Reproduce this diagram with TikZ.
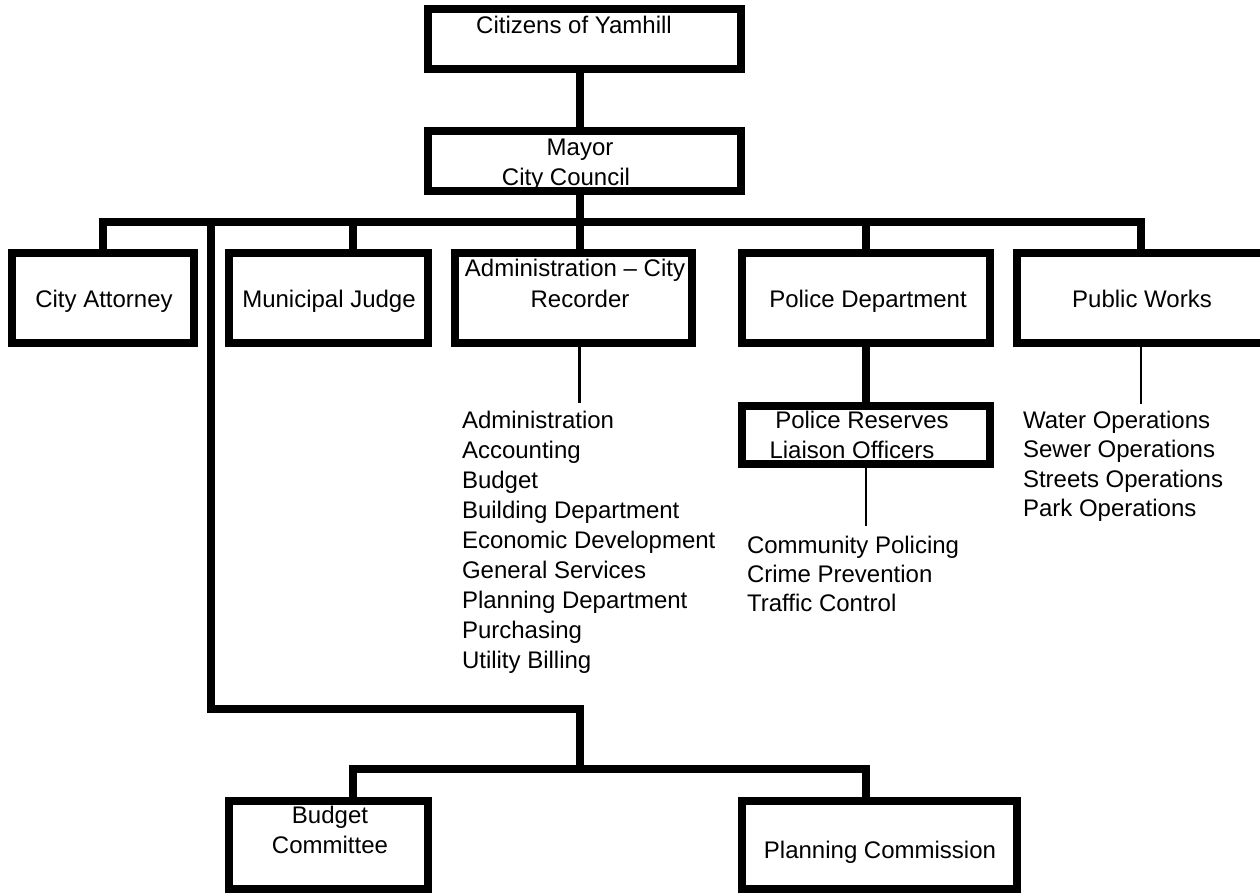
\documentclass[tikz,border=0pt]{standalone}
\usepackage{fontspec}
\setmainfont{Liberation Sans}
\begin{document}
\begin{tikzpicture}[x=1pt,y=-1pt,
  box/.style={draw=black,line width=8pt,line join=miter,rectangle,inner sep=0pt,outer sep=0pt},
  txt/.style={inner sep=0pt,outer sep=0pt,anchor=base,font=\fontsize{24}{29.5}\selectfont},
  ltxt/.style={txt,anchor=base west},
  conn/.style={line width=8pt,line join=miter},
  thinline/.style={line width=2.8pt}]
\clip (0,0) rectangle (1260,894);
\fill[white] (0,0) rectangle (1260,894);
% boxes
\node[box,minimum width=313pt,minimum height=60pt] (cit) at (584.5,39) {};
\node[box,minimum width=313pt,minimum height=60pt] (mayor) at (584.5,161) {};
\node[box,minimum width=182pt,minimum height=90pt] (ca) at (103,298) {};
\node[box,minimum width=199pt,minimum height=90pt] (mj) at (328.5,298) {};
\node[box,minimum width=237pt,minimum height=90pt] (adm) at (573.5,298) {};
\node[box,minimum width=248pt,minimum height=90pt] (pd) at (866,298) {};
\node[box,minimum width=248pt,minimum height=90pt] (pw) at (1141,298) {};
\node[box,minimum width=248pt,minimum height=58pt] (pr) at (866,435) {};
\node[box,minimum width=199pt,minimum height=88pt] (bc) at (328.5,845) {};
\node[box,minimum width=275pt,minimum height=88pt] (pc) at (879.5,845) {};
% junctions
\coordinate (hub) at (579.5,222);
\coordinate (mjb) at (353,222);
\coordinate (trunk) at (211,222);
\coordinate (low) at (211,709);
\coordinate (bot) at (579.5,769);
\coordinate (bcb) at (353,769);
\coordinate (pcb) at (866,769);
\coordinate (admend) at (579.5,403);
\coordinate (prend) at (866,526);
\coordinate (pwend) at (1141,404);
% connectors
\draw[conn] (cit.south -| hub) -- (mayor.north -| hub);
\draw[conn] (mayor.south -| hub) -- (adm.north -| hub);
\draw[conn] (ca.north) |- (hub) -| (pw.north);
\draw[conn] (mjb) -- (mj.north -| mjb);
\draw[conn] (pd.north |- hub) -- (pd.north);
\draw[conn] (trunk) -- (low) -| (bot);
\draw[conn] (bc.north -| bcb) -- (bcb) -- (pcb) -- (pc.north -| pcb);
\draw[conn] (pd.south) -- (pr.north);
\draw[thinline] (adm.south -| hub) -- (admend);
\draw[thinline] (pr.south) -- (prend);
\draw[thinline] (pw.south) -- (pwend);
% texts
\node[txt] (tcit) at (574,33) {Citizens of Yamhill};
\node[txt] (tmay) at (580,155) {Mayor};
\node[txt] (tcc) at (566,185) {City Council};
\node[txt] (tca) at (104,307) {City Attorney};
\node[txt] (tmj) at (329,307) {Municipal Judge};
\node[txt] (tadm1) at (575,276) {Administration – City};
\node[txt] (tadm2) at (580,307) {Recorder};
\node[txt] (tpd) at (868,307) {Police Department};
\node[txt] (tpw) at (1142,307) {Public Works};
\node[txt] (tpr1) at (862,428) {Police Reserves};
\node[txt] (tpr2) at (852,458) {Liaison Officers};
\node[txt] (tbc1) at (330,823) {Budget};
\node[txt] (tbc2) at (330,853) {Committee};
\node[txt] (tpc) at (880,858) {Planning Commission};
\foreach \t [count=\i from 0] in {Administration,Accounting,Budget,Building Department,Economic Development,General Services,Planning Department,Purchasing,Utility Billing}
  \node[ltxt] (al\i) at (462,428+30*\i) {\t};
\foreach \t [count=\i from 0] in {Community Policing,Crime Prevention,Traffic Control}
  \node[ltxt] (pl\i) at (747,553+29*\i) {\t};
\foreach \t [count=\i from 0] in {Water Operations,Sewer Operations,Streets Operations,Park Operations}
  \node[ltxt] (wl\i) at (1023,428+29.5*\i) {\t};
\end{tikzpicture}
\end{document}
